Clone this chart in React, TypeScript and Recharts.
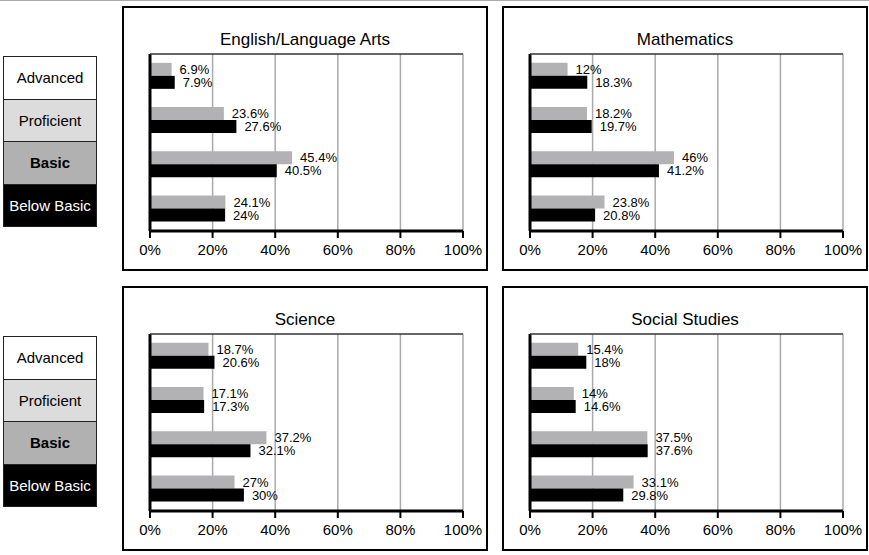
import { BarChart, Bar, XAxis, YAxis, CartesianGrid, LabelList, ReferenceLine } from "recharts";

const levels = ["Advanced", "Proficient", "Basic", "Below Basic"];
const subjects = ["English/Language Arts", "Mathematics", "Science", "Social Studies"];
const ticks = [0, 20, 40, 60, 80, 100];

// gray bar (top of each pair) and black bar (bottom), per subject, Advanced -> Below Basic
const grayValues = [
	[6.9, 23.6, 45.4, 24.1],
	[12, 18.2, 46, 23.8],
	[18.7, 17.1, 37.2, 27],
	[15.4, 14, 37.5, 33.1],
];
const blackValues = [
	[7.9, 27.6, 40.5, 24],
	[18.3, 19.7, 41.2, 20.8],
	[20.6, 17.3, 32.1, 30],
	[18, 14.6, 37.6, 29.8],
];

const legendStyles = [
	{ bg: "#ffffff", color: "#000", bold: false },
	{ bg: "#dcdcdc", color: "#000", bold: false },
	{ bg: "#b1b1b1", color: "#000", bold: true },
	{ bg: "#000000", color: "#fff", bold: false },
];

const font = "'Liberation Sans', Arial, Helvetica, sans-serif";

function Panel({ index, left, top }: { index: number; left: number; top: number }) {
	const data = levels.map((level, i) => ({
		level,
		gray: grayValues[index][i],
		black: blackValues[index][i],
	}));
	return (
		<div
			style={{
				position: "absolute",
				left,
				top,
				width: 362,
				height: 261,
				border: "2px solid #000",
			}}
		>
			<div
				style={{
					position: "absolute",
					left: 0,
					top: 22,
					width: "100%",
					textAlign: "center",
					fontSize: 17,
					lineHeight: "20px",
				}}
			>
				{subjects[index]}
			</div>
			<div style={{ position: "absolute", left: -2, top: -2 }}>
				<BarChart
					width={366}
					height={265}
					data={data}
					layout="vertical"
					margin={{ top: 47, right: 25, left: 28, bottom: 0 }}
					barCategoryGap="20%"
					barGap={0}
				>
					<CartesianGrid horizontal={false} stroke="#aaaaaa" strokeWidth={1.5} />
					<XAxis
						type="number"
						domain={[0, 100]}
						ticks={ticks}
						tickFormatter={(v) => `${v}%`}
						axisLine={{ stroke: "#000", strokeWidth: 3 }}
						tickLine={{ stroke: "#000", strokeWidth: 2 }}
						tickSize={7}
						tickMargin={6}
						tick={{ fill: "#000", fontSize: 15 }}
						height={40}
					/>
					<XAxis
						xAxisId="top"
						orientation="top"
						type="number"
						domain={[0, 100]}
						tick={false}
						tickLine={false}
						axisLine={{ stroke: "#333", strokeWidth: 1.5 }}
						height={1}
					/>
					<YAxis type="category" dataKey="level" hide />
					<Bar dataKey="gray" fill="#b2b2b4" isAnimationActive={false}>
						<LabelList
							dataKey="gray"
							position="right"
							offset={8}
							formatter={(v: any) => `${v}%`}
							style={{ fill: "#000", fontSize: 13 }}
						/>
					</Bar>
					<Bar dataKey="black" fill="#000000" isAnimationActive={false}>
						<LabelList
							dataKey="black"
							position="right"
							offset={8}
							formatter={(v: any) => `${v}%`}
							style={{ fill: "#000", fontSize: 13 }}
						/>
					</Bar>
					<ReferenceLine x={0} stroke="#000" strokeWidth={3} />
				</BarChart>
			</div>
		</div>
	);
}

function LevelKey({ top }: { top: number }) {
	return (
		<div style={{ position: "absolute", left: 3, top, width: 94 }}>
			{levels.map((level, i) => (
				<div
					key={level}
					style={{
						height: 41.5,
						border: "1px solid #222",
						borderTop: i === 0 ? "1px solid #222" : "none",
						background: legendStyles[i].bg,
						color: legendStyles[i].color,
						fontWeight: legendStyles[i].bold ? "bold" : "normal",
						fontSize: 15,
						display: "flex",
						alignItems: "center",
						justifyContent: "center",
					}}
				>
					{level}
				</div>
			))}
		</div>
	);
}

export default function App() {
	return (
		<div
			style={{
				position: "absolute",
				left: 0,
				top: 0,
				width: 869,
				height: 555,
				background: "#fff",
				fontFamily: font,
				overflow: "hidden",
			}}
		>
			<div style={{ position: "absolute", left: 0, top: 0, width: 869, height: 1, background: "#aaa" }} />
			<LevelKey top={56} />
			<LevelKey top={336} />
			<Panel index={0} left={122} top={6} />
			<Panel index={1} left={502} top={6} />
			<Panel index={2} left={122} top={286} />
			<Panel index={3} left={502} top={286} />
		</div>
	);
}
